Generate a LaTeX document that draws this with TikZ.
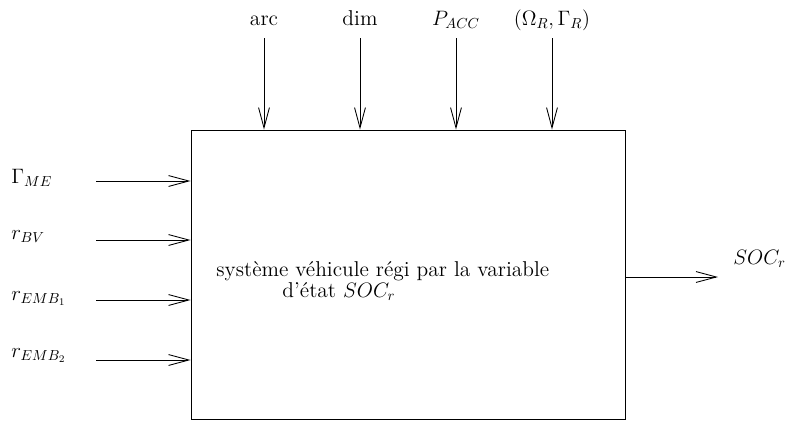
\documentclass[tikz,border=0pt]{standalone}
\usepackage{fontspec}
\usepackage{tikz}
\usetikzlibrary{calc,arrows.meta}

\tikzset{
  lbl/.style={inner sep=0pt,font=\fontsize{14.8}{18}\selectfont},
}

\begin{document}
\begin{tikzpicture}[x=0.69pt,y=-0.69pt,>={Straight Barb[length=14pt,width=7.5pt]},line width=0.6pt]
  \useasboundingbox (0,0) rectangle (790,421);

  %% The system block and its text
  \node[draw,inner sep=0pt,minimum width=299.5pt,minimum height=199.4pt] (SYS) at (408,274.5) {};
  \node[lbl,anchor=base west] (TXT1) at (216,276) {système véhicule régi par la variable};
  \node[lbl,anchor=base west] (TXT2) at (282,297) {d'état $SOC_r$};

  %% Inputs on the left
  \foreach \y/\b/\name/\txt in {181/183/ME/{$\Gamma_{ME}$},240/239/BV/{$r_{BV}$},300/300/EMB1/{$r_{EMB_1}$},360/357/EMB2/{$r_{EMB_2}$}}
  {
    \node[lbl,anchor=base west] (L\name) at (11,\b) {\txt};
    \coordinate (S\name) at (96,\y);
    \draw[->] (S\name) -- (S\name -| SYS.west);
  }

  %% Inputs on the top
  \foreach \x/\name/\txt in {264/ARC/arc,360/DIM/dim,456/PACC/{$P_{ACC}$},552/OMG/{$(\Omega_R,\Gamma_R)$}}
  {
    \node[lbl,anchor=base] (T\name) at (\x,25) {\txt};
    \coordinate (S\name) at (\x,38);
    \draw[->] (S\name) -- (S\name |- SYS.north);
  }

  %% Output
  \coordinate (OUT) at (718,277);
  \draw[->] (OUT -| SYS.east) -- (OUT);
  \node[lbl,anchor=base west] (LOUT) at (733,264) {$SOC_r$};

\end{tikzpicture}
\end{document}
